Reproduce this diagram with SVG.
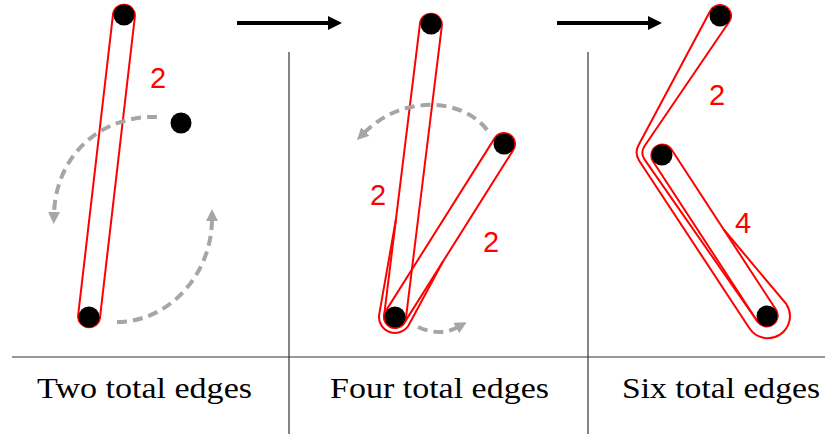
<svg xmlns="http://www.w3.org/2000/svg" width="825" height="434" viewBox="0 0 825 434">
<style>
.red{fill:none;stroke:#ff0000;stroke-width:2}
.node{fill:#000000}
.gray{fill:none;stroke:#a6a6a6;stroke-width:4;stroke-dasharray:10 6}
.blk{fill:none;stroke:#000000;stroke-width:4}
.sep{fill:none;stroke:#333333;stroke-width:1.2}
.num{font-family:"Liberation Sans",Arial,sans-serif;font-size:29px;fill:#ff0000;text-anchor:middle}
.cap{font-family:"Liberation Serif","Times New Roman",serif;font-size:30px;fill:#000000}
</style>
<defs>
<marker id="ga" viewBox="0 0 12 12" refX="2" refY="6" markerWidth="12" markerHeight="12" markerUnits="userSpaceOnUse" orient="auto">
<path d="M0,0 L12,6 L0,12 Z" fill="#a6a6a6"/>
</marker>
<marker id="ba" viewBox="0 0 14 14" refX="0" refY="7" markerWidth="14" markerHeight="14" markerUnits="userSpaceOnUse" orient="auto">
<path d="M0,0 L14,7 L0,14 Z" fill="#000000"/>
</marker>
</defs>
<g id="separators">
<path class="sep" d="M12,357 H825"/>
<path class="sep" d="M289,52 V434"/>
<path class="sep" d="M588,52 V434"/>
</g>
<g id="edges">
<path class="red" d="M134.9,16.3 L99.9,318.3 A11,11 0 0 1 78.1,315.7 L113.1,13.7 A11,11 0 0 1 134.9,16.3 Z"/>
<path class="red" d="M396,219 L379.1,315.05 A16,16 0 0 0 408.5,325.5 L442.7,262"/>
<path class="red" d="M441.9,25.3 L405.9,318.3 A11,11 0 0 1 384.1,315.7 L420.1,22.7 A11,11 0 0 1 441.9,25.3 Z"/>
<path class="red" d="M513.3,149.9 L404.3,322.9 A11,11 0 0 1 385.7,311.1 L494.7,138.1 A11,11 0 0 1 513.3,149.9 Z"/>
<path class="red" d="M730.2,20.2 A11,11 0 0 0 709.8,11.8 L638.5,145.3 Q634.3,153.2 639.2,160.7 L749.4,328.2 A22,22 0 0 0 786.4,304.2 L723.7,229.5"/>
<path class="red" d="M730.2,20.2 L644.6,146 Q640.1,152.6 644.5,159.4 L757.8,322"/>
<path class="red" d="M671.2,149 L776.2,310 A11,11 0 0 1 757.8,322 L652.8,161 A11,11 0 0 1 671.2,149 Z"/>
</g>
<g id="labels">
<text class="num" x="158" y="88">2</text>
<text class="num" x="378" y="205">2</text>
<text class="num" x="491" y="252">2</text>
<text class="num" x="717" y="105">2</text>
<text class="num" x="743" y="233">4</text>
</g>
<g id="connectors">
<path class="gray" marker-end="url(#ga)" d="M157,117 C102,115 56,154 54,214"/>
<path class="gray" marker-end="url(#ga)" d="M117,322 C169,322 212,274 212,219"/>
<path class="gray" marker-end="url(#ga)" d="M487,130 C465,100 405,92 364,133"/>
<path class="gray" marker-end="url(#ga)" d="M418,327 Q440,337 458,327"/>
<path class="blk" marker-end="url(#ba)" d="M237,23 H328"/>
<path class="blk" marker-end="url(#ba)" d="M557,23 H648"/>
</g>
<g id="node-p1-top"><circle class="node" cx="124" cy="15" r="10.5"/></g>
<g id="node-p1-bottom"><circle class="node" cx="89" cy="317" r="10.5"/></g>
<g id="node-p1-free"><circle class="node" cx="181" cy="123" r="10.5"/></g>
<g id="node-p2-top"><circle class="node" cx="431" cy="24" r="10.5"/></g>
<g id="node-p2-bottom"><circle class="node" cx="395" cy="317" r="10.5"/></g>
<g id="node-p2-right"><circle class="node" cx="504" cy="144" r="10.5"/></g>
<g id="node-p3-top"><circle class="node" cx="720" cy="16" r="10.5"/></g>
<g id="node-p3-mid"><circle class="node" cx="662" cy="155" r="10.5"/></g>
<g id="node-p3-bottom"><circle class="node" cx="767" cy="316" r="10.5"/></g>
<g id="captions">
<text class="cap" x="37" y="398" textLength="215" lengthAdjust="spacingAndGlyphs">Two total edges</text>
<text class="cap" x="330" y="398" textLength="219" lengthAdjust="spacingAndGlyphs">Four total edges</text>
<text class="cap" x="622" y="398" textLength="198" lengthAdjust="spacingAndGlyphs">Six total edges</text>
</g>
</svg>
